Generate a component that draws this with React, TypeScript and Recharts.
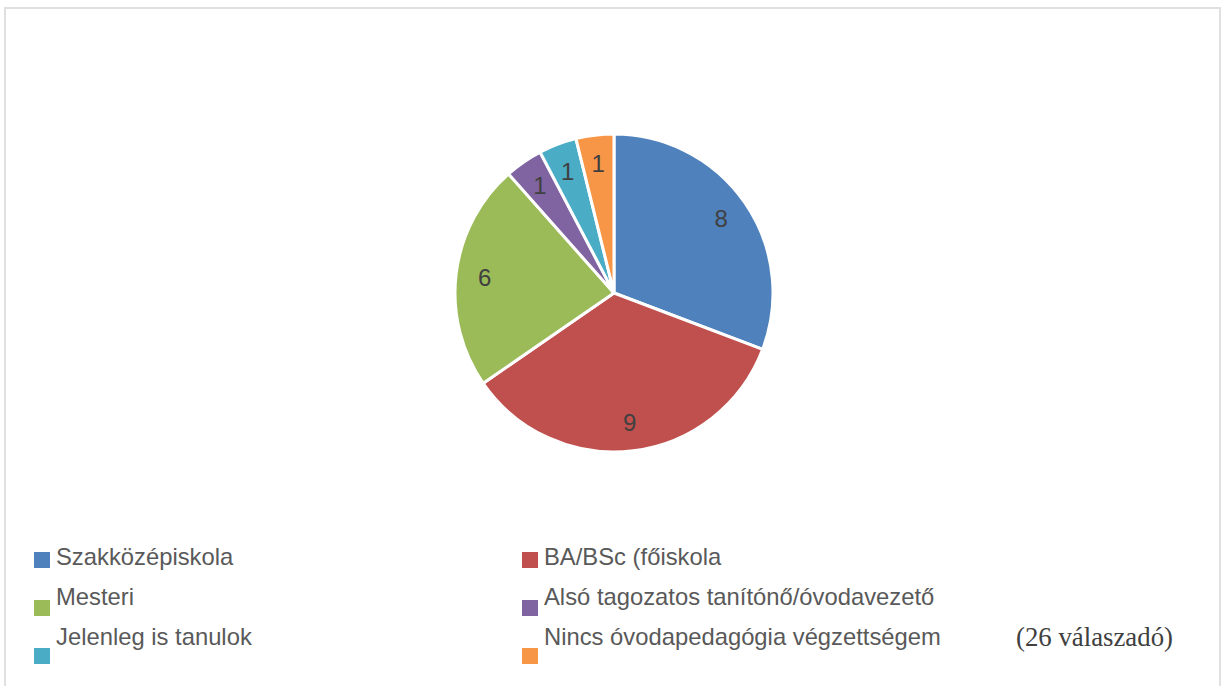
import React from "react";
import { PieChart, Pie, Cell, Legend } from "recharts";

const categories = [
  "Szakközépiskola",
  "BA/BSc (főiskola",
  "Mesteri",
  "Alsó tagozatos tanítónő/óvodavezető",
  "Jelenleg is tanulok",
  "Nincs óvodapedagógia végzettségem",
];
const values = [8, 9, 6, 1, 1, 1];
const colors = ["#4F81BD", "#C0504D", "#9BBB59", "#8064A2", "#4BACC6", "#F79646"];
const note = "(26 válaszadó)";

const data = categories.map((name, i) => ({ name, value: values[i] }));

const RADIAN = Math.PI / 180;

const renderLabel = (props: any) => {
  const { cx, cy, midAngle, outerRadius, value } = props;
  const r = outerRadius * 0.82;
  const x = cx + r * Math.cos(-midAngle * RADIAN);
  const y = cy + r * Math.sin(-midAngle * RADIAN);
  return (
    <text
      x={x}
      y={y}
      fill="#404040"
      fontSize={24}
      fontFamily="Liberation Sans, Arial, sans-serif"
      textAnchor="middle"
      dominantBaseline="central"
    >
      {value}
    </text>
  );
};

const LegendContent = () => {
  const colX = [34, 522];
  const squareY = [552, 600, 648];
  const textY = [565, 605, 645];
  return (
    <svg width={1223} height={686} style={{ position: "absolute", left: 0, top: 0 }}>
      {categories.map((c, i) => {
        const col = i % 2;
        const row = Math.floor(i / 2);
        return (
          <g key={c}>
            <rect x={colX[col]} y={squareY[row]} width={16} height={16} fill={colors[i]} />
            <text
              x={colX[col] + 22}
              y={textY[row]}
              fontSize={23.8}
              fill="#595959"
              fontFamily="Liberation Sans, Arial, sans-serif"
            >
              {c}
            </text>
          </g>
        );
      })}
      <text
        x={1016}
        y={646}
        fontSize={26.8}
        fill="#404040"
        fontFamily="Liberation Serif, Times New Roman, serif"
      >
        {note}
      </text>
    </svg>
  );
};

export default function App() {
  return (
    <div style={{ position: "fixed", left: 0, top: 0, width: 1223, height: 686, background: "#fff", overflow: "hidden" }}>
      <div
        style={{
          position: "absolute",
          left: 4,
          top: 7,
          width: 1217,
          height: 720,
          border: "2px solid #E0E0E0",
          boxSizing: "border-box",
        }}
      />
      <PieChart
        width={1223}
        height={686}
        margin={{ top: 0, right: 0, bottom: 0, left: 0 }}
        style={{ position: "absolute", left: 0, top: 0 }}
      >
        <Pie
          data={data}
          dataKey="value"
          nameKey="name"
          cx={614}
          cy={293}
          outerRadius={159}
          startAngle={90}
          endAngle={-270}
          stroke="#FFFFFF"
          strokeWidth={3}
          label={renderLabel}
          labelLine={false}
          isAnimationActive={false}
        >
          {data.map((d, i) => (
            <Cell key={d.name} fill={colors[i]} />
          ))}
        </Pie>
        <Legend
          content={<LegendContent />}
          wrapperStyle={{ position: "absolute", left: 0, top: 0, width: 1223, height: 686 }}
        />
      </PieChart>
    </div>
  );
}
